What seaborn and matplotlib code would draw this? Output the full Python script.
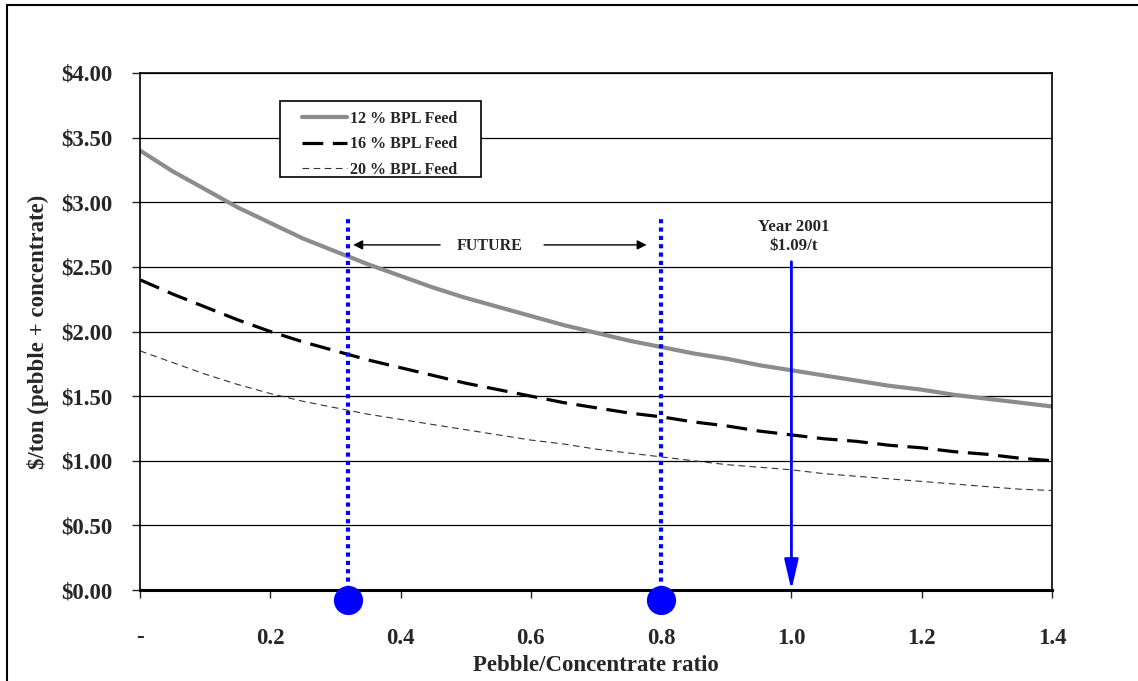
import numpy as np
import pandas as pd
import matplotlib
matplotlib.use('Agg')
import matplotlib.pyplot as plt
from matplotlib.ticker import FuncFormatter
from matplotlib.patches import Rectangle
import seaborn as sns

sns.set_theme(style="white")
plt.rcParams['font.family'] = ['Liberation Serif', 'DejaVu Serif']
plt.rcParams['font.weight'] = 'bold'

# data
ratio = [0.00, 0.05, 0.10, 0.15, 0.20, 0.25, 0.30, 0.35, 0.40, 0.45, 0.50, 0.55, 0.60, 0.65,
         0.70, 0.75, 0.80, 0.85, 0.90, 0.95, 1.00, 1.05, 1.10, 1.15, 1.20, 1.25, 1.30, 1.35, 1.40]
feed12 = [3.40, 3.24, 3.10, 2.96, 2.84, 2.72, 2.62, 2.52, 2.43, 2.34, 2.26, 2.19, 2.12, 2.05,
          1.99, 1.93, 1.88, 1.83, 1.79, 1.74, 1.70, 1.66, 1.62, 1.58, 1.55, 1.51, 1.48, 1.45, 1.42]
feed16 = [2.40, 2.29, 2.19, 2.09, 2.00, 1.92, 1.85, 1.78, 1.72, 1.66, 1.60, 1.55, 1.50, 1.45,
          1.41, 1.37, 1.34, 1.30, 1.27, 1.23, 1.20, 1.17, 1.15, 1.12, 1.10, 1.07, 1.05, 1.02, 1.00]
feed20 = [1.85, 1.76, 1.67, 1.59, 1.52, 1.46, 1.41, 1.36, 1.32, 1.28, 1.24, 1.20, 1.16, 1.13,
          1.09, 1.06, 1.03, 1.00, 0.97, 0.95, 0.93, 0.90, 0.88, 0.86, 0.84, 0.82, 0.80, 0.78, 0.77]
series_names = ["12 % BPL Feed", "16 % BPL Feed", "20 % BPL Feed"]
future_x = [0.32, 0.8]
year2001_x = 1.0
xtick_vals = [0.0, 0.2, 0.4, 0.6, 0.8, 1.0, 1.2, 1.4]
xtick_labels = ['-', '0.2', '0.4', '0.6', '0.8', '1.0', '1.2', '1.4']

fig = plt.figure(figsize=(11.38, 6.81), dpi=100)
ax = fig.add_axes([140/1138, 1-590/681, (1052-140)/1138, (590-73)/681])

styles = [dict(color='#8c8c8c', lw=3.0, ls='-'),
          dict(color='black', lw=2.3, ls=(0, (6.5, 3))),
          dict(color='#333333', lw=0.8, ls=(0, (6, 4)))]
for name, vals, st in zip(series_names, [feed12, feed16, feed20], styles):
    df = pd.DataFrame({'ratio': ratio, 'cost': vals})
    sns.lineplot(data=df, x='ratio', y='cost', ax=ax, label=name,
                 color=st['color'], linewidth=st['lw'], linestyle=st['ls'])

ax.set_xlim(0, 1.4)
ax.set_ylim(0, 4.0)
ax.set_yticks(np.arange(0, 4.01, 0.5))
ax.yaxis.set_major_formatter(FuncFormatter(lambda v, p: r'\$%.2f' % v))
ax.set_xticks(xtick_vals)
ax.set_xticklabels(xtick_labels)
ax.grid(axis='y', color='black', linewidth=0.9)
ax.grid(axis='x', visible=False)
for s in ax.spines.values():
    s.set_color('black')
    s.set_linewidth(1.2)
ax.spines['bottom'].set_linewidth(2.2)
ax.tick_params(axis='y', direction='out', length=6, width=1, pad=14, labelsize=16.5, left=True)
ax.tick_params(axis='x', direction='out', length=6, width=1, pad=21, labelsize=16.5, bottom=True)
for lab in ax.get_xticklabels() + ax.get_yticklabels():
    lab.set_fontweight('bold')

ax.set_xlabel('Pebble/Concentrate ratio', fontsize=16.5, fontweight='bold', labelpad=5)
ax.set_ylabel(r'\$/ton (pebble + concentrate)', fontsize=16.5, fontweight='bold')
ax.yaxis.set_label_coords(-0.1, 0.5)

# future window
for fx in future_x:
    ax.plot([fx, fx], [0, 2.90], color='#0000ff', lw=3, ls=(0, (1, 1)))
ax.scatter(future_x, [-0.08, -0.08], s=400, color='#0000ff', zorder=5, clip_on=False)
ax.text(0.537, 2.66, 'FUTURE', ha='center', va='center', fontsize=11.5, fontweight='bold')
ax.annotate('', xy=(0.323, 2.67), xytext=(0.465, 2.67),
            arrowprops=dict(arrowstyle='-|>', color='black', lw=1, mutation_scale=14))
ax.annotate('', xy=(0.782, 2.67), xytext=(0.616, 2.67),
            arrowprops=dict(arrowstyle='-|>', color='black', lw=1, mutation_scale=14))

# year 2001
ax.annotate('', xy=(year2001_x, 0.0), xytext=(year2001_x, 2.54),
            arrowprops=dict(arrowstyle='-|>,head_length=1.3,head_width=0.3', color='#0000ff',
                            lw=2, mutation_scale=14, shrinkA=0, shrinkB=0))
ax.text(year2001_x + 0.004, 2.735, 'Year 2001\n' + r'\$1.09/t', ha='center', va='center',
        fontsize=12.2, fontweight='bold', linespacing=1.25)

# legend with a frame matching the reference box
ax.add_patch(Rectangle(((280-140)/912, (590-177)/517), (481-280)/912, (177-101)/517,
                       transform=ax.transAxes, facecolor='white', edgecolor='black',
                       linewidth=1.2, zorder=4))
leg = ax.legend(loc='upper left', bbox_to_anchor=((302-140)/912, (590-111)/517),
                frameon=False, borderpad=0, borderaxespad=0,
                prop={'size': 11.5, 'weight': 'bold', 'family': 'Liberation Serif'},
                handlelength=2.8, handletextpad=0.2, labelspacing=0.58)
leg.set_zorder(6)

# page frame (left and top edges)
fig.add_artist(plt.Line2D([7/1138, 7/1138], [0, 1-5/681], color='black', lw=1.5,
                          transform=fig.transFigure))
fig.add_artist(plt.Line2D([7/1138, 1], [1-5/681, 1-5/681], color='black', lw=1.5,
                          transform=fig.transFigure))

fig.savefig('out.png', dpi=100)
